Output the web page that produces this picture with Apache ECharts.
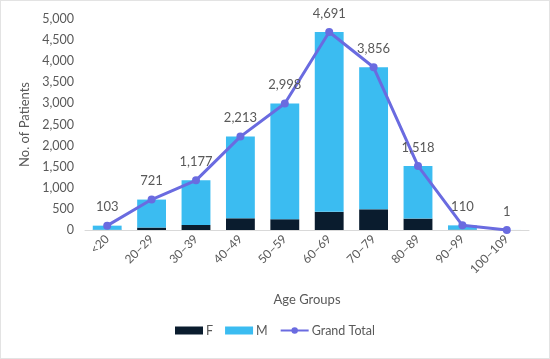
<!DOCTYPE html>
<html><head><meta charset="utf-8">
<script src="https://cdn.jsdelivr.net/npm/echarts@6/dist/echarts.min.js"></script>
<style>html,body{margin:0;padding:0;background:#fff}#c{width:548px;height:357px;border:1px solid #e3e3e3}</style>
</head><body><div id="c"></div>
<script>
const categories = ['<20','20–29','30–39','40–49','50–59','60–69','70–79','80–89','90–99','100–109'];
const femaleValues = [5, 58, 120, 277, 255, 430, 490, 270, 8, 0];
const totalValues = [103, 721, 1177, 2213, 2998, 4691, 3856, 1518, 110, 1];
const maleValues = totalValues.map((t, i) => t - femaleValues[i]);
const yTicks = [0, 500, 1000, 1500, 2000, 2500, 3000, 3500, 4000, 4500, 5000];

const fmt = v => v.toLocaleString('en-US');
const font = 'Lato';
const txt = '#595959';
const chart = echarts.init(document.getElementById('c'));
chart.setOption({
  animation: false,
  textStyle: { fontFamily: font },
  grid: { left: 84, right: 20, top: 18, bottom: 128 },
  legend: {
    bottom: 16, left: 'center', itemWidth: 28, itemHeight: 8, itemGap: 12,
    textStyle: { color: txt, fontSize: 12.5, fontFamily: font, padding: [0, 0, 0, -2] },
    data: [{ name: 'F', icon: 'rect' }, { name: 'M', icon: 'rect' }, { name: 'Grand Total' }]
  },
  xAxis: {
    type: 'category', data: categories,
    name: 'Age Groups', nameLocation: 'middle', nameGap: 63,
    nameTextStyle: { color: txt, fontSize: 13 },
    axisLine: { lineStyle: { color: '#d9d9d9' } },
    axisTick: { show: false },
    axisLabel: { rotate: 45, color: txt, fontSize: 12, interval: 0, margin: 7 }
  },
  yAxis: {
    type: 'value', min: yTicks[0], max: yTicks[yTicks.length - 1], interval: 500,
    name: 'No. of Patients', nameLocation: 'middle', nameGap: 46, nameRotate: 90,
    nameTextStyle: { color: txt, fontSize: 13 },
    axisLine: { show: false }, axisTick: { show: false }, splitLine: { show: false },
    axisLabel: { color: txt, fontSize: 12.5, formatter: v => fmt(v), margin: 11 }
  },
  series: [
    { name: 'F', type: 'bar', stack: 'g', data: femaleValues, barWidth: '65%', itemStyle: { color: '#0a1c2e' } },
    { name: 'M', type: 'bar', stack: 'g', data: maleValues, barWidth: '65%', itemStyle: { color: '#3bbcf1' } },
    { name: 'Grand Total', type: 'line', data: totalValues, symbol: 'circle', symbolSize: 8,
      lineStyle: { color: '#6a6be0', width: 3 }, itemStyle: { color: '#6a6be0' },
      label: { show: true, position: 'top', distance: 8, color: txt, fontSize: 13, formatter: p => fmt(p.value) } }
  ]
});
</script></body></html>
